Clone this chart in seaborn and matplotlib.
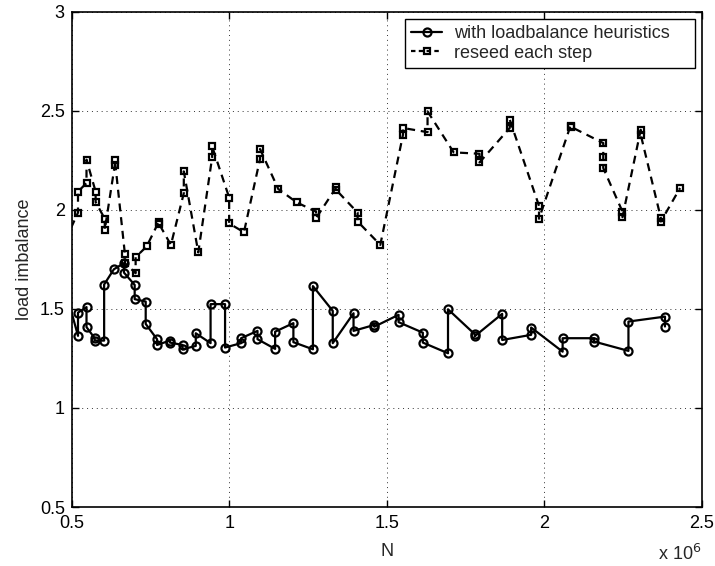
import matplotlib
matplotlib.use("Agg")
import matplotlib.pyplot as plt
import seaborn as sns
import pandas as pd

# N values in units of 10^6
heur_x = [0.480, 0.520, 0.520, 0.547, 0.547, 0.573, 0.573, 0.603, 0.603, 0.634,
          0.666, 0.666, 0.700, 0.700, 0.735, 0.735, 0.771, 0.771, 0.812, 0.812,
          0.852, 0.852, 0.894, 0.894, 0.941, 0.941, 0.987, 0.987, 1.038, 1.038,
          1.090, 1.090, 1.146, 1.146, 1.204, 1.204, 1.266, 1.266, 1.329, 1.329,
          1.395, 1.395, 1.461, 1.461, 1.538, 1.538, 1.615, 1.615, 1.695, 1.695,
          1.780, 1.780, 1.867, 1.867, 1.959, 1.959, 2.059, 2.059, 2.159, 2.159,
          2.268, 2.268, 2.384, 2.384]
heur_y = [1.596, 1.364, 1.481, 1.509, 1.408, 1.352, 1.340, 1.340, 1.623, 1.700,
          1.731, 1.683, 1.621, 1.549, 1.537, 1.424, 1.347, 1.318, 1.340, 1.330,
          1.318, 1.296, 1.313, 1.377, 1.327, 1.524, 1.524, 1.305, 1.327, 1.352,
          1.389, 1.347, 1.298, 1.385, 1.428, 1.332, 1.296, 1.615, 1.490, 1.327,
          1.478, 1.389, 1.419, 1.410, 1.470, 1.433, 1.380, 1.330, 1.276, 1.498,
          1.372, 1.362, 1.475, 1.343, 1.369, 1.406, 1.284, 1.352, 1.352, 1.335,
          1.288, 1.436, 1.461, 1.411]

reseed_x = [0.480, 0.520, 0.520, 0.547, 0.547, 0.576, 0.576, 0.605, 0.605, 0.637,
            0.637, 0.669, 0.669, 0.703, 0.703, 0.738, 0.777, 0.777, 0.815, 0.856,
            0.856, 0.902, 0.946, 0.946, 1.000, 1.000, 1.047, 1.098, 1.098, 1.156,
            1.215, 1.276, 1.276, 1.340, 1.340, 1.408, 1.408, 1.480, 1.552, 1.552,
            1.630, 1.630, 1.713, 1.795, 1.795, 1.891, 1.891, 1.984, 1.984, 2.084,
            2.084, 2.188, 2.188, 2.188, 2.249, 2.249, 2.307, 2.307, 2.371, 2.371,
            2.432]
reseed_y = [1.846, 1.986, 2.092, 2.135, 2.253, 2.092, 2.039, 1.955, 1.899, 2.227,
            2.253, 1.776, 1.731, 1.680, 1.761, 1.815, 1.941, 1.930, 1.823, 2.084,
            2.194, 1.785, 2.265, 2.320, 2.062, 1.931, 1.887, 2.256, 2.307, 2.105,
            2.037, 1.991, 1.958, 2.113, 2.100, 1.986, 1.941, 1.823, 2.379, 2.413,
            2.392, 2.497, 2.290, 2.283, 2.239, 2.413, 2.455, 2.020, 1.955, 2.424,
            2.420, 2.337, 2.269, 2.211, 1.991, 1.963, 2.404, 2.379, 1.958, 1.941,
            2.110]

x_ticks = [0.5, 1, 1.5, 2, 2.5]
x_tick_labels = ["0.5", "1", "1.5", "2", "2.5"]
y_ticks = [0.5, 1, 1.5, 2, 2.5, 3]
y_tick_labels = ["0.5", "1", "1.5", "2", "2.5", "3"]

sns.set_style("ticks")
plt.rcParams["font.family"] = ["Liberation Sans", "DejaVu Sans"]

FS = 13
fig = plt.figure(figsize=(7.15, 5.66), dpi=100)
ax = fig.add_axes([71.7 / 715, 1 - 507 / 566, (701.5 - 71.7) / 715, (507 - 11.7) / 566])

df_h = pd.DataFrame({"N": heur_x, "imb": heur_y})
df_r = pd.DataFrame({"N": reseed_x, "imb": reseed_y})

sns.lineplot(data=df_h, x="N", y="imb", sort=False, estimator=None, ax=ax,
             color="black", linewidth=1.6, marker="o", markersize=5.8,
             markerfacecolor="none", markeredgecolor="black", markeredgewidth=1.6,
             label="with loadbalance heuristics")
sns.lineplot(data=df_r, x="N", y="imb", sort=False, estimator=None, ax=ax,
             color="black", linewidth=1.6, marker="s", markersize=4.6,
             markerfacecolor="none", markeredgecolor="black", markeredgewidth=1.6,
             dashes=False, label="reseed each step")
ax.lines[1].set_linestyle((0, (3.6, 2.6)))

ax.set_xlim(0.5, 2.5)
ax.set_ylim(0.5, 3)
ax.set_xticks(x_ticks)
ax.set_xticklabels(x_tick_labels)
ax.set_yticks(y_ticks)
ax.set_yticklabels(y_tick_labels)
ax.tick_params(direction="in", length=5, width=1, top=True, right=True,
               labelsize=FS, colors="black")
ax.tick_params(axis="y", pad=5)
ax.tick_params(axis="x", pad=6)
ax.grid(True, color="#333333", linestyle=(0, (1, 4)), linewidth=0.7)
for s in ax.spines.values():
    s.set_visible(True)
    s.set_linewidth(1.2)
    s.set_color("black")

ax.set_xlabel("N", fontsize=FS, labelpad=8)
ax.set_ylabel("load imbalance", fontsize=FS, labelpad=5)
fig.text(680 / 715, 1 - 554 / 566, r"x 10$^6$", fontsize=FS, ha="center", va="center")

leg = ax.legend(loc="upper left", bbox_to_anchor=(0.529, 0.5, 0.4605, 0.4859),
                mode="expand", borderaxespad=0, fontsize=FS,
                frameon=True, fancybox=False, edgecolor="black", framealpha=1,
                handlelength=1.7, borderpad=0.35, labelspacing=0.15, handletextpad=0.65)
leg.get_frame().set_linewidth(1.0)
leg_lines = leg.get_lines()
if len(leg_lines) > 1:
    leg_lines[1].set_linestyle((0, (2, 1.5)))

fig.savefig("out.png", dpi=100)
